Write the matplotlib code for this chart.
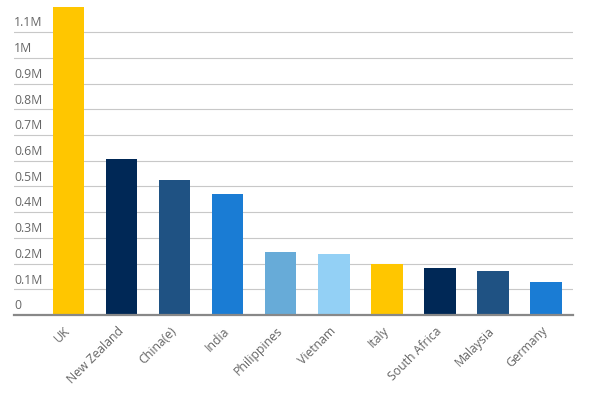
import matplotlib
matplotlib.use("Agg")
import matplotlib.pyplot as plt

countries = ["UK", "New Zealand", "China(e)", "India", "Philippines",
             "Vietnam", "Italy", "South Africa", "Malaysia", "Germany"]
values = [1.2, 0.607, 0.525, 0.472, 0.246, 0.238, 0.197, 0.184, 0.170, 0.127]
colors = ["#FFC600", "#002856", "#1F5283", "#1A7CD4", "#67ABD8",
          "#93D0F5", "#FFC600", "#002856", "#1F5283", "#1A7CD4"]
yticks = [0, 0.1, 0.2, 0.3, 0.4, 0.5, 0.6, 0.7, 0.8, 0.9, 1.0, 1.1]
ylabels = ["0", "0.1M", "0.2M", "0.3M", "0.4M", "0.5M", "0.6M",
           "0.7M", "0.8M", "0.9M", "1M", "1.1M"]

plt.rcParams["font.family"] = ["Open Sans", "DejaVu Sans"]
txt = "#666666"

fig = plt.figure(figsize=(5.9, 3.95), dpi=100)
ax = fig.add_axes([14 / 590, 80 / 395, 559 / 590, 308.5 / 395])

x = range(len(countries))
ax.bar(x, values, width=0.6, color=colors, zorder=3)

ax.set_xlim(-1.028, 9.515)
ax.set_ylim(0, 1.2)

# gridlines, labels sit just above each line
for v in yticks[1:]:
    ax.axhline(v, color="#c8c8c8", lw=0.8, zorder=1)
ax.set_yticks([])
for v, lab in zip(yticks, ylabels):
    ax.annotate(lab, xy=(0, v), xycoords=("axes fraction", "data"),
                xytext=(0, 2), textcoords="offset points",
                ha="left", va="bottom", fontsize=8.8, color=txt)

ax.set_xticks(list(x))
ax.set_xticklabels(countries, rotation=45, ha="right", va="center",
                   rotation_mode="anchor", fontsize=8.8, color=txt)
ax.tick_params(axis="x", length=0, pad=10)

for s in ["top", "right", "left"]:
    ax.spines[s].set_visible(False)
ax.spines["bottom"].set_color("#888888")
ax.spines["bottom"].set_linewidth(1.6)
ax.spines["bottom"].set_zorder(4)

fig.savefig("out.png", dpi=100)
